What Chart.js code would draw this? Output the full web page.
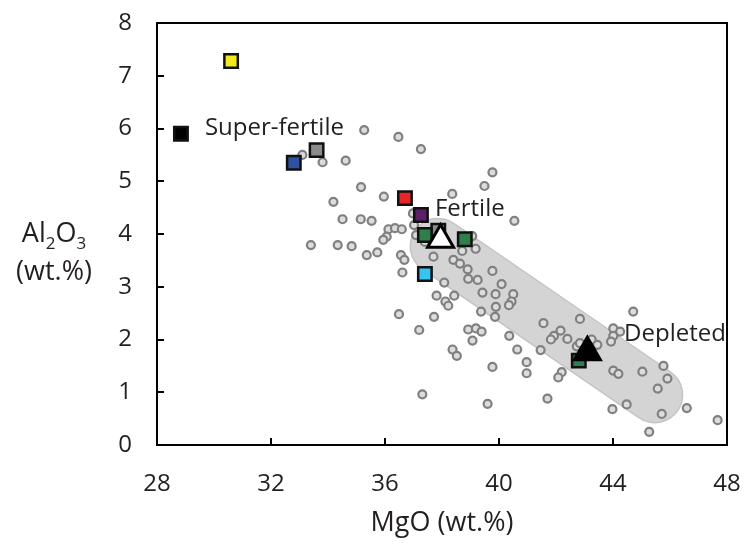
<!DOCTYPE html>
<html>
<head>
<meta charset="utf-8">
<script src="https://cdn.jsdelivr.net/npm/chart.js"></script>
<title>Al2O3 vs MgO</title>
<style>
  html, body { margin: 0; padding: 0; background: #fff; }
</style>
</head>
<body>
<canvas id="chart" width="748" height="546"></canvas>
<script>
// grey circles (samples)
const circleMgO = [35.27, 36.47, 37.26, 33.10, 33.81, 34.62, 35.16, 35.96, 34.19, 34.51,
  35.15, 35.53, 36.12, 36.35, 36.59, 36.06, 35.94, 33.40, 34.34, 34.83,
  35.36, 35.73, 36.56, 36.68, 36.61, 36.98, 37.02, 37.09, 37.40, 37.70,
  38.40, 38.63, 38.71, 39.18, 39.06, 38.90, 38.92, 39.25, 39.77, 40.09,
  40.50, 40.44, 40.35, 39.89, 39.86, 39.37, 39.42, 39.88, 38.08, 37.81,
  38.12, 38.22, 38.43, 37.72, 36.49, 37.20, 38.92, 39.19, 39.39, 39.07,
  40.36, 40.64, 41.46, 41.56, 38.37, 38.52, 39.77, 40.97, 40.97, 37.31,
  39.60, 42.84, 42.16, 41.93, 41.82, 42.40, 42.73, 42.84, 42.20, 42.08,
  41.70, 43.25, 43.45, 44.01, 44.25, 44.01, 43.93, 44.71, 44.01, 44.19,
  45.03, 45.77, 45.91, 45.57, 43.98, 44.48, 45.71, 46.59, 47.67, 45.27,
  39.77, 39.49, 38.36, 40.54];
const circleAl2O3 = [5.97, 5.84, 5.61, 5.50, 5.36, 5.39, 4.89, 4.71, 4.61, 4.28,
  4.28, 4.25, 4.09, 4.11, 4.09, 3.95, 3.89, 3.79, 3.79, 3.77,
  3.60, 3.65, 3.60, 3.51, 3.27, 4.39, 4.17, 3.98, 3.85, 3.57,
  3.51, 3.44, 3.68, 3.72, 3.96, 3.33, 3.15, 3.13, 3.30, 3.05,
  2.86, 2.72, 2.65, 2.62, 2.43, 2.53, 2.89, 2.86, 3.08, 2.83,
  2.72, 2.64, 2.83, 2.43, 2.48, 2.18, 2.19, 2.21, 2.15, 1.98,
  2.07, 1.81, 1.80, 2.31, 1.81, 1.69, 1.48, 1.57, 1.36, 0.96,
  0.78, 2.39, 2.17, 2.07, 2.00, 2.01, 1.87, 1.93, 1.38, 1.28,
  0.88, 2.00, 1.90, 2.21, 2.15, 2.07, 1.96, 2.53, 1.41, 1.35,
  1.39, 1.50, 1.26, 1.07, 0.68, 0.77, 0.59, 0.70, 0.47, 0.25,
  5.17, 4.91, 4.76, 4.25];

// coloured squares
const squareMgO = [30.60, 28.84, 32.80, 33.60, 36.70, 37.26, 37.87, 37.40, 38.80, 37.40, 42.80];
const squareAl2O3 = [7.28, 5.90, 5.35, 5.59, 4.68, 4.36, 4.06, 3.98, 3.90, 3.24, 1.60];
const squareColors = ['#f2ea1c', '#000000', '#2f519f', '#8c8c8c', '#e8252b', '#5d1f68',
  '#8c8c8c', '#2f7f4c', '#2f7f4c', '#37c4f2', '#2f7f4c'];

// triangles: fertile (open) and depleted (filled)
const triangleMgO = [37.95, 43.10];
const triangleAl2O3 = [3.89, 1.76];

// shaded melting trend
const bandMgO = [37.86, 45.47];
const bandAl2O3 = [3.77, 0.95];

const xTicks = [28, 32, 36, 40, 44, 48];
const yTicks = [0, 1, 2, 3, 4, 5, 6, 7, 8];

const fieldNames = ['Super-fertile', 'Fertile', 'Depleted'];
const fieldMgO = [29.68, 37.75, 44.39];
const fieldAl2O3 = [6.01, 4.47, 2.10];

const textColor = '#231f20';
const fontFamily = "'Open Sans', 'Noto Sans', sans-serif";

const pts = (xs, ys) => xs.map((x, i) => ({ x: x, y: ys[i] }));

const framePlugin = {
  id: 'frame',
  afterDraw(chart) {
    const ctx = chart.ctx;
    const a = chart.chartArea;
    const xs = chart.scales.x, ys = chart.scales.y;
    ctx.save();
    ctx.strokeStyle = '#000';
    ctx.lineWidth = 2;
    ctx.strokeRect(a.left, a.top, a.right - a.left, a.bottom - a.top);
    ctx.beginPath();
    yTicks.slice(1, -1).forEach(v => {
      const y = Math.round(ys.getPixelForValue(v));
      ctx.moveTo(a.left, y);
      ctx.lineTo(a.left + 7, y);
    });
    xTicks.slice(1, -1).forEach(v => {
      const x = Math.round(xs.getPixelForValue(v));
      ctx.moveTo(x, a.bottom);
      ctx.lineTo(x, a.bottom - 7);
    });
    ctx.stroke();

    // field labels
    ctx.fillStyle = textColor;
    ctx.font = '24px ' + fontFamily;
    ctx.textBaseline = 'middle';
    ctx.textAlign = 'left';
    fieldNames.forEach((t, i) => {
      ctx.fillText(t, xs.getPixelForValue(fieldMgO[i]), ys.getPixelForValue(fieldAl2O3[i]));
    });

    // y axis title with subscripts
    const big = '27px ' + fontFamily, small = '17px ' + fontFamily;
    const parts = [['Al', big, 0], ['2', small, 7], ['O', big, 0], ['3', small, 7]];
    let w = 0;
    parts.forEach(p => { ctx.font = p[1]; w += ctx.measureText(p[0]).width; });
    let x = 54 - w / 2;
    ctx.textBaseline = 'alphabetic';
    parts.forEach(p => {
      ctx.font = p[1];
      ctx.fillText(p[0], x, 242 + p[2]);
      x += ctx.measureText(p[0]).width;
    });
    ctx.font = big;
    ctx.textAlign = 'center';
    ctx.fillText('(wt.%)', 54, 280);
    ctx.restore();
  }
};

new Chart(document.getElementById('chart'), {
  type: 'scatter',
  data: {
    datasets: [
      {
        label: 'triangles',
        data: pts(triangleMgO, triangleAl2O3),
        pointStyle: 'triangle',
        pointRadius: 15,
        pointBackgroundColor: ['#ffffff', '#000000'],
        pointBorderColor: '#000000',
        pointBorderWidth: 3,
        clip: false
      },
      {
        label: 'squares',
        data: pts(squareMgO, squareAl2O3),
        pointStyle: 'rect',
        pointRadius: 9.5,
        pointBackgroundColor: squareColors,
        pointBorderColor: '#111111',
        pointBorderWidth: 2.5,
        clip: false
      },
      {
        label: 'samples',
        data: pts(circleMgO, circleAl2O3),
        pointStyle: 'circle',
        pointRadius: 4,
        pointBackgroundColor: '#dcdcdc',
        pointBorderColor: '#808080',
        pointBorderWidth: 2.2
      },
      {
        label: 'trend',
        data: pts(bandMgO, bandAl2O3),
        showLine: true,
        pointRadius: 0,
        borderColor: '#d5d4d5',
        borderWidth: 54,
        borderCapStyle: 'round'
      },
      {
        label: 'trend edge',
        data: pts(bandMgO, bandAl2O3),
        showLine: true,
        pointRadius: 0,
        borderColor: '#c5c4c5',
        borderWidth: 57,
        borderCapStyle: 'round'
      }
    ]
  },
  options: {
    responsive: false,
    animation: false,
    events: [],
    layout: { padding: { left: 0, right: 21, top: 23, bottom: 0 } },
    plugins: { legend: { display: false }, tooltip: { enabled: false } },
    scales: {
      x: {
        type: 'linear',
        min: 28,
        max: 48,
        afterBuildTicks: s => { s.ticks = xTicks.map(v => ({ value: v })); },
        afterFit: s => { s.height = 101; },
        grid: { display: false, drawTicks: true, tickLength: 25 },
        border: { display: false },
        ticks: { padding: 0, color: textColor, font: { family: fontFamily, size: 24 } },
        title: {
          display: true,
          text: 'MgO (wt.%)',
          color: textColor,
          font: { family: fontFamily, size: 27 },
          padding: { top: 0, bottom: 6 }
        }
      },
      y: {
        type: 'linear',
        min: 0,
        max: 8,
        afterBuildTicks: s => { s.ticks = yTicks.map(v => ({ value: v })); },
        afterFit: s => { s.width = 157; },
        grid: { display: false, drawTicks: true, tickLength: 25 },
        border: { display: false },
        ticks: { padding: 0, color: textColor, font: { family: fontFamily, size: 24 } }
      }
    }
  },
  plugins: [framePlugin]
});
</script>
</body>
</html>
